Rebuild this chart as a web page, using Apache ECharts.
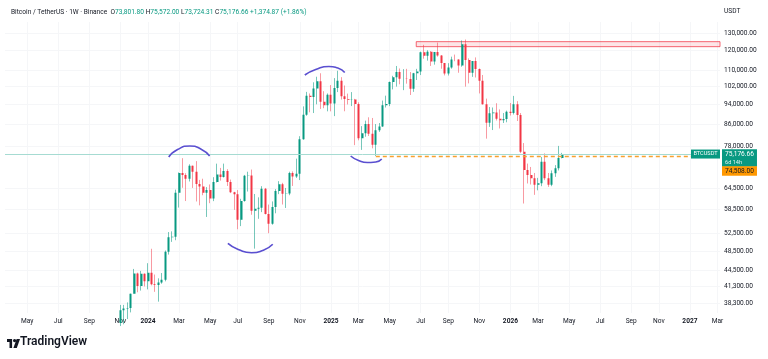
<!DOCTYPE html>
<html><head><meta charset="utf-8">
<script src="https://cdn.jsdelivr.net/npm/echarts@6/dist/echarts.min.js"></script>
<style>html,body{margin:0;padding:0;background:#fff}#c{width:768px;height:359px}</style>
</head><body><div id="c"></div>
<script>
// ---- data (weekly BTC/USDT, Monday open) ----
const weeks = [
 '2023-10-02','2023-10-09','2023-10-16','2023-10-23','2023-10-30','2023-11-06','2023-11-13','2023-11-20','2023-11-27','2023-12-04','2023-12-11','2023-12-18','2023-12-25',
 '2024-01-01','2024-01-08','2024-01-15','2024-01-22','2024-01-29','2024-02-05','2024-02-12','2024-02-19','2024-02-26','2024-03-04','2024-03-11','2024-03-18','2024-03-25',
 '2024-04-01','2024-04-08','2024-04-15','2024-04-22','2024-04-29','2024-05-06','2024-05-13','2024-05-20','2024-05-27','2024-06-03','2024-06-10','2024-06-17','2024-06-24',
 '2024-07-01','2024-07-08','2024-07-15','2024-07-22','2024-07-29','2024-08-05','2024-08-12','2024-08-19','2024-08-26','2024-09-02','2024-09-09','2024-09-16','2024-09-23',
 '2024-09-30','2024-10-07','2024-10-14','2024-10-21','2024-10-28','2024-11-04','2024-11-11','2024-11-18','2024-11-25','2024-12-02','2024-12-09','2024-12-16','2024-12-23','2024-12-30',
 '2025-01-06','2025-01-13','2025-01-20','2025-01-27','2025-02-03','2025-02-10','2025-02-17','2025-02-24','2025-03-03','2025-03-10','2025-03-17','2025-03-24','2025-03-31',
 '2025-04-07','2025-04-14','2025-04-21','2025-04-28','2025-05-05','2025-05-12','2025-05-19','2025-05-26','2025-06-02','2025-06-09','2025-06-16','2025-06-23','2025-06-30',
 '2025-07-07','2025-07-14','2025-07-21','2025-07-28','2025-08-04','2025-08-11','2025-08-18','2025-08-25','2025-09-01','2025-09-08','2025-09-15','2025-09-22','2025-09-29',
 '2025-10-06','2025-10-13','2025-10-20','2025-10-27','2025-11-03','2025-11-10','2025-11-17','2025-11-24','2025-12-01','2025-12-08','2025-12-15','2025-12-22','2025-12-29',
 '2026-01-05','2026-01-12','2026-01-19','2026-01-26','2026-02-02','2026-02-09','2026-02-16','2026-02-23','2026-03-02','2026-03-09','2026-03-16','2026-03-23','2026-03-30',
 '2026-04-06','2026-04-13','2026-04-20'
];
const opens = [
 27990,27920,27150,29990,34530,35010,37060,37360,37450,39970,43790,41370,43720,
 42280,43930,41730,41580,42030,42580,48300,51570,51730,63110,68960,68390,67210,
 71280,69360,65660,64940,63120,63890,61480,66270,68510,67760,69650,66220,63210,
 62680,55850,60800,68160,68250,58160,58710,58970,64230,57300,54840,59130,63580,
 65600,62820,62850,69030,67930,68740,80370,89850,97900,97280,101110,104460,95190,93700,
 98300,94500,101330,104710,97690,96460,96120,96260,94270,80700,82580,86080,82390,
 78370,83760,85170,93750,94280,104120,106450,109010,105700,105730,105550,100960,108360,
 109200,119090,117300,119400,114210,119300,117400,113480,108250,111150,115300,115250,112200,
 123500,115100,108650,114500,110500,104700,94200,86600,90400,90700,88200,87600,88100,
 91000,90500,94200,89700,76000,69900,68400,67400,65400,65900,72600,67400,65400,
 68900,70500,73801.80
];
const highs = [
 28600,27990,30380,35280,35980,37980,37990,38420,39970,44700,43950,44300,43800,
 45880,48970,43580,42840,43880,48590,52820,52985,64000,69170,73780,68920,71770,
 71350,72800,66870,67230,64730,65500,67700,71980,70600,71990,70200,66980,63370,
 63860,61390,68400,69400,70080,62750,61800,65000,64480,59810,60670,64130,66500,
 66000,64480,69400,69500,73620,81500,93270,99590,98870,104000,106650,108350,99900,98900,
 102700,106000,109590,106460,102500,98830,99500,96500,95000,85300,87450,88770,88500,
 86100,86500,95760,97900,104360,107100,111980,110720,110400,110530,108950,108530,110530,
 119480,123220,120250,119800,119310,124470,117630,113500,113400,116800,117900,115400,125700,
 126200,115900,114000,116400,110700,107500,96600,93000,92800,94600,92000,90500,91500,
 94700,97800,95500,90500,79000,72000,70900,69000,67500,74200,75400,69000,69800,
 71500,78000,75572.00
];
const lows = [
 27160,26540,26970,29660,34080,34520,34800,35630,36720,39970,40220,40530,41300,
 40750,41500,40300,38550,41800,42260,47700,50520,50900,59000,64530,60780,66400,
 64490,60660,59600,62390,56550,60190,60750,66100,66670,67590,65070,63000,58400,
 53490,54260,60600,63450,57120,49000,56080,57800,57200,52550,54600,57500,62700,
 59830,58900,62400,65070,67470,66830,80200,89380,90800,90500,94150,92200,92500,91200,
 91200,89250,99500,96200,91230,94090,93390,78260,80000,76600,81300,81570,77150,
 74508,83100,85000,92800,93380,100720,102000,103070,100370,103370,98200,99600,105100,
 107470,115740,114720,112000,112650,116800,110600,107300,107250,110600,114400,108600,111600,
 102000,103500,106600,106300,98900,94000,80600,85000,83800,87500,84400,86500,86800,
 89500,89900,87300,75500,60100,65800,65500,62500,63800,65000,66800,64800,65000,
 67800,69800,73724.31
];
const closes = [
 27920,27150,29990,34530,35010,37060,37360,37450,39970,43790,41370,43720,42280,
 43930,41730,41580,42030,42580,48300,51570,51730,63110,68960,68390,67210,71280,
 69360,65660,64940,63120,63890,61480,66270,68510,67760,69650,66220,63210,62680,
 55850,60800,68160,68250,58160,58710,58970,64230,57300,54840,59130,63580,65600,
 62820,62850,69030,67930,68740,80370,89850,97900,97280,101110,104460,95190,93700,98300,
 94500,101330,104710,97690,96460,96120,96260,94270,80700,82580,86080,82390,78370,
 83760,85170,93750,94280,104120,106450,109010,105700,105730,105550,100960,108360,109200,
 119090,117300,119400,114210,119300,117400,113480,108250,111150,115300,115250,112200,123500,
 115100,108650,114500,110500,104700,94200,86600,90400,90700,88200,87600,88100,91000,
 90500,94200,89700,76000,69900,68400,67400,65400,65900,72600,67400,65400,68900,
 70500,73801.80,75176.66
];
// axis ticks (labels)
const priceTicks = [38300,41300,44500,48500,52500,58500,64500,78000,86000,94000,102000,110000,120000,130000];
const timeTicks = ['2023-05-01','2023-07-03','2023-09-04','2023-11-06','2024-01-01','2024-03-04','2024-05-06','2024-07-01',
 '2024-09-02','2024-11-04','2025-01-06','2025-03-03','2025-05-05','2025-07-07','2025-09-01','2025-11-03','2026-01-05',
 '2026-03-02','2026-05-04','2026-07-06','2026-09-07','2026-11-02','2027-01-04','2027-03-01'];
// annotations
const resistanceZone = {start:'2025-06-28', top:125000, bottom:122200};
const supportLevel = {start:'2025-04-07', value:74508};
const lastPrice = 75176.66;
const countdown = '6d 14h';
const arcs = [
 [['2024-02-12',74180],['2024-03-01',76740],['2024-03-26',77960],['2024-04-17',76910],['2024-05-05',74520]],
 [['2024-06-11',50190],['2024-07-02',48830],['2024-07-29',48110],['2024-08-22',48660],['2024-09-10',49970]],
 [['2024-11-14',107500],['2024-12-06',110210],['2025-01-02',111710],['2025-01-20',110950],['2025-02-03',108720]],
 [['2025-02-15',74520],['2025-03-03',73010],['2025-03-21',72360],['2025-04-07',72520],['2025-04-19',73500]]
];
const header = {pair:'Bitcoin / TetherUS · 1W · Binance', O:'73,801.80', H:'75,572.00', L:'73,724.31', C:'75,176.66', chg:'+1,374.87 (+1.86%)'};
const currency = 'USDT';

// ---- chart ----
const t = s => new Date(s + 'T00:00:00').getTime();
const fmt = v => Number(v).toLocaleString('en-US',{minimumFractionDigits:2, maximumFractionDigits:2});
const MONTHS = ['Jan','Feb','Mar','Apr','May','Jun','Jul','Aug','Sep','Oct','Nov','Dec'];
const FONT = 'Roboto, "Liberation Sans", Arial, sans-serif';
const TXT = '#131722', UP = '#089981', DOWN = '#f23645';
const xMin = t('2023-03-17'), xMax = t('2027-03-06');
const rows = weeks.map((w,i)=>[t(w), opens[i], closes[i], lows[i], highs[i]]);
const timeTickValues = timeTicks.map(t);

const chart = echarts.init(document.getElementById('c'));
const FS = 6.6;
const option = {
  animation:false, backgroundColor:'#ffffff',
  textStyle:{fontFamily:FONT},
  title:{left:6, top:4,
    text:'{n|'+header.pair+'}  {k|O}{v|'+header.O+'} {k|H}{v|'+header.H+'} {k|L}{v|'+header.L+'} {k|C}{v|'+header.C+'} {v|'+header.chg+'}',
    textStyle:{fontSize:FS, fontWeight:'normal', color:TXT, rich:{
      n:{fontSize:FS, color:TXT, fontFamily:FONT}, k:{fontSize:FS, color:TXT, fontFamily:FONT}, v:{fontSize:FS, color:UP, fontFamily:FONT}}}},
  grid:{left:5, right:48, top:22, bottom:46},
  xAxis:{type:'value', min:xMin, max:xMax, scale:true,
    axisLine:{show:false}, axisTick:{show:false, customValues:timeTickValues},
    splitLine:{show:true, lineStyle:{color:'#f5f6f8', width:1}},
    axisLabel:{customValues:timeTickValues, fontSize:FS, color:TXT, margin:5, fontFamily:FONT, showMaxLabel:true, showMinLabel:true,
      formatter:v=>{const d=new Date(v); return d.getMonth()===0 ? '{y|'+d.getFullYear()+'}' : MONTHS[d.getMonth()];},
      rich:{y:{fontSize:FS, fontWeight:'bold', color:TXT, fontFamily:FONT}}}},
  yAxis:{type:'log', logBase:10, position:'right', min:36620, max:136630,
    axisLine:{show:false}, axisTick:{show:false, customValues:priceTicks},
    splitLine:{show:true, lineStyle:{color:'#f5f6f8', width:1}},
    axisLabel:{customValues:priceTicks, formatter:v=>fmt(v), fontSize:FS, color:TXT, margin:4, fontFamily:FONT,
      showMaxLabel:true, showMinLabel:true, hideOverlap:false}},
  series:[
    {type:'candlestick', name:'wicks', data:rows, encode:{x:0, y:[1,2,3,4]}, barWidth:1, silent:true,
      itemStyle:{color:'rgba(0,0,0,0)', color0:'rgba(0,0,0,0)', borderColor:'rgba(8,153,129,0.55)', borderColor0:'rgba(242,54,69,0.5)', borderWidth:1}},
    {type:'candlestick', name:'BTCUSDT', data:rows, encode:{x:0, y:[1,2,3,4]}, barWidth:2.5, silent:true,
      itemStyle:{color:UP, color0:DOWN, borderColor:UP, borderColor0:DOWN, borderWidth:0},
      markArea:{silent:true, itemStyle:{color:'rgba(242,54,69,0.13)', borderColor:'rgba(242,54,69,0.75)', borderWidth:1},
        data:[[{coord:[t(resistanceZone.start), resistanceZone.top]}, {coord:[xMax, resistanceZone.bottom]}]]},
      markLine:{silent:true, symbol:['none','none'], animation:false,
        data:[
          {yAxis:lastPrice, lineStyle:{color:'#a6dbd2', width:1, type:'solid'},
            label:{show:true, position:'end', distance:2, offset:[0,4],
              formatter:'{p|'+fmt(lastPrice)+'}\n{c|'+countdown+'}',
              backgroundColor:UP, padding:[1.5,3,1,3],
              rich:{p:{color:'#fff', fontSize:FS, lineHeight:8, fontFamily:FONT}, c:{color:'#e6f5f2', fontSize:5.6, lineHeight:7, fontFamily:FONT}}}},
          [{coord:[t(supportLevel.start), supportLevel.value], lineStyle:{color:'#f7a12e', width:1.3, type:[4,3]},
             label:{show:true, position:'end', distance:2, offset:[0,15], formatter:fmt(supportLevel.value),
               backgroundColor:'#ff9800', color:TXT, fontSize:FS, padding:[1.5,3,1,3], fontFamily:FONT}},
           {coord:[xMax, supportLevel.value]}]
        ]},
      markPoint:{silent:true, animation:false,
        data:[{coord:[xMax, lastPrice], symbol:'rect', symbolSize:[29,9], symbolOffset:[-14.5,0],
          itemStyle:{color:UP}, label:{show:true, position:'inside', formatter:'BTCUSDT', color:'#fff', fontSize:5.6, fontFamily:FONT}}]}
    },
    ...arcs.map(a=>({type:'line', data:a.map(p=>[t(p[0]),p[1]]), smooth:0.6, symbol:'none', showSymbol:false, silent:true, z:5,
      lineStyle:{color:'#5a4fd0', width:1.6}}))
  ],
  graphic:[
    {type:'text', left:724, top:8, style:{text:currency, font:FS+'px Roboto, "Liberation Sans", sans-serif', fill:TXT}},
    {type:'group', left:7, top:339, children:[
      {type:'rect', shape:{x:0,y:0,width:5,height:3}, style:{fill:TXT}},
      {type:'rect', shape:{x:2.5,y:0,width:2.6,height:9}, style:{fill:TXT}},
      {type:'circle', shape:{cx:7.6,cy:1.6,r:1.6}, style:{fill:TXT}},
      {type:'polygon', shape:{points:[[9.6,0],[13,0],[9.8,9],[6.4,9]]}, style:{fill:TXT}}
    ]},
    {type:'text', left:20, top:336, style:{text:'TradingView', font:'600 12px Roboto, "Liberation Sans", sans-serif', fill:TXT}}
  ]
};
chart.setOption(option);
</script>
</body></html>
